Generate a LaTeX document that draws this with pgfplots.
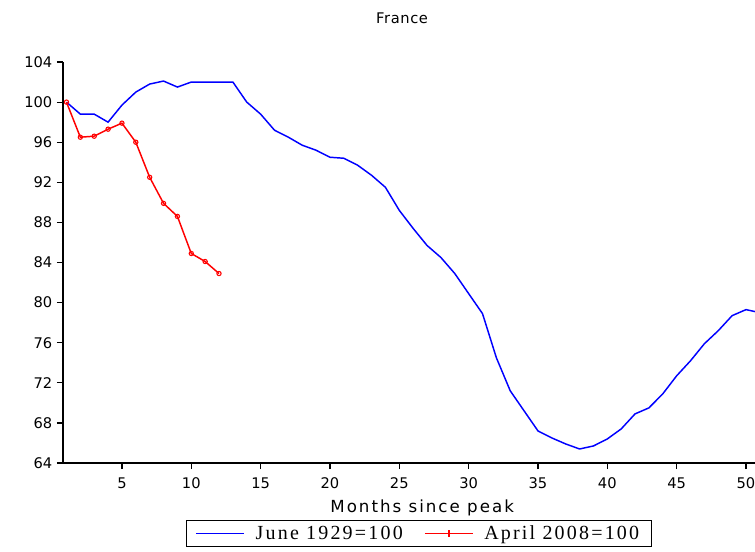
\documentclass[border=0pt]{standalone}
\usepackage{fontspec}
\setmainfont{DejaVu Sans}
\newfontfamily\legfont[LetterSpace=11]{Liberation Serif}
\newcommand{\legtext}{\legfont\fontsize{15}{17}\selectfont}
\usepackage{pgfplots}
\pgfplotsset{compat=1.18}
\begin{document}
\begin{tikzpicture}
\begin{axis}[
  at={(0pt,0pt)}, anchor=south west,
  scale only axis, width=519pt, height=300.75pt,
  xmin=0.75, xmax=50.65, ymin=64, ymax=104,
  axis x line*=bottom, axis y line*=left,
  axis line style={line width=0.9pt,-},
  tick align=outside, major tick length=4.5pt,
  tick style={black,line width=0.9pt},
  xtick={5,10,...,50}, ytick={64,68,...,104},
  ticklabel style={font=\fontsize{11}{13}\selectfont},
  xticklabel style={yshift=-3pt},
  /pgf/number format/assume math mode=true,
  title={France},
  title style={at={(0.49,1)},anchor=center,yshift=27pt,font=\fontsize{11}{13}\selectfont\addfontfeature{LetterSpace=4}},
  xlabel={Months since peak},
  xlabel style={at={(0.519,0)},anchor=center,yshift=-34pt,font=\fontsize{12.5}{14}\selectfont\addfontfeature{LetterSpace=12}},
  legend style={at={(0.514,-0.142)},anchor=north,legend columns=2,draw=black,
    inner xsep=7pt, inner ysep=2pt,
    /tikz/every odd column/.append style={column sep=6pt},
    /tikz/every even column/.append style={column sep=14pt}},
]
\addplot[color=blue, line width=1.1pt,
  legend image code/.code={\draw[blue,line width=1.1pt] (0pt,0pt) -- (36pt,0pt);}] coordinates {
(1,100) (2,98.8) (3,98.8) (4,98.0) (5,99.7) (6,101.0) (7,101.8) (8,102.1) (9,101.5) (10,102.0)
(11,102.0) (12,102.0) (13,102.0) (14,100.0) (15,98.8) (16,97.2) (17,96.5) (18,95.7) (19,95.2) (20,94.5)
(21,94.4) (22,93.7) (23,92.7) (24,91.5) (25,89.2) (26,87.4) (27,85.7) (28,84.5) (29,82.9) (30,80.9)
(31,78.9) (32,74.5) (33,71.2) (34,69.2) (35,67.2) (36,66.5) (37,65.9) (38,65.4) (39,65.7) (40,66.4)
(41,67.4) (42,68.9) (43,69.5) (44,70.9) (45,72.7) (46,74.2) (47,75.9) (48,77.2) (49,78.7) (50,79.3) (51,79.0)
};
\addlegendentry{\legtext June 1929=100}
\addplot[color=red, line width=1.1pt, mark=o, mark size=1.6pt, mark options={line width=0.8pt},
  legend image code/.code={\draw[red,line width=1.1pt] (0pt,0pt) -- (36pt,0pt); \draw[red,line width=1.1pt] (18pt,-2.5pt) -- (18pt,2.5pt);}] coordinates {
(1,100) (2,96.5) (3,96.6) (4,97.3) (5,97.9) (6,96.0) (7,92.5) (8,89.9) (9,88.6) (10,84.9) (11,84.1) (12,82.9)
};
\addlegendentry{\legtext April 2008=100}
\end{axis}
\pgfresetboundingbox
\useasboundingbox (-47.25pt,-66pt) rectangle (519pt,347.25pt);
\end{tikzpicture}
\end{document}
